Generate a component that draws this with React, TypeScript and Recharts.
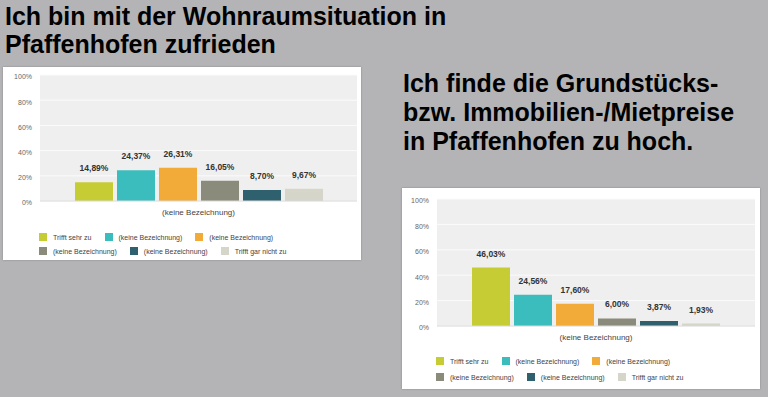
import React from 'react';
import { BarChart, Bar, XAxis, YAxis, CartesianGrid, LabelList } from 'recharts';

const categories = ['(keine Bezeichnung)'];
const seriesNames = [
  'Trifft sehr zu',
  '(keine Bezeichnung)',
  '(keine Bezeichnung)',
  '(keine Bezeichnung)',
  '(keine Bezeichnung)',
  'Trifft gar nicht zu',
];
const seriesColors = ['#c6cd34', '#3cbdbd', '#f2aa38', '#8b8b7b', '#2f606e', '#d5d5c9'];
const wohnraumValues = [14.89, 24.37, 26.31, 16.05, 8.7, 9.67];
const preiseValues = [46.03, 24.56, 17.6, 6.0, 3.87, 1.93];
const yTicks = [0, 20, 40, 60, 80, 100];
const title1Lines = ['Ich bin mit der Wohnraumsituation in', 'Pfaffenhofen zufrieden'];
const title2Lines = ['Ich finde die Grundstücks-', 'bzw. Immobilien-/Mietpreise', 'in Pfaffenhofen zu hoch.'];

const FONT = '"Liberation Sans", Arial, Helvetica, sans-serif';

function buildData(values: number[]) {
  const row: Record<string, string | number> = { name: categories[0] };
  values.forEach((v, i) => {
    row['s' + i] = v;
  });
  return [row];
}

const fmt = (v: any) => Number(v).toFixed(2).replace('.', ',') + '%';

type PanelProps = {
  left: number;
  top: number;
  width: number;
  height: number;
  values: number[];
  plotLeft: number;
  plotRight: number;
  plotTop: number;
  plotBottom: number;
  legendTop: number;
  legendRowH: number;
};

function Panel(p: PanelProps) {
  const data = buildData(p.values);
  const rows = [seriesNames.slice(0, 3).map((n, i) => ({ n, i })), seriesNames.slice(3).map((n, i) => ({ n, i: i + 3 }))];
  return (
    <div
      style={{
        position: 'absolute',
        left: p.left,
        top: p.top,
        width: p.width,
        height: p.height,
        background: '#ffffff',
        boxShadow: '0 0 2px rgba(0,0,0,0.25)',
      }}
    >
      <BarChart
        width={p.width}
        height={p.height}
        data={data}
        margin={{ top: p.plotTop, right: p.width - p.plotRight, left: 0, bottom: 0 }}
        barSize={38}
        barGap={4}
      >
        <CartesianGrid vertical={false} fill="#efefef" stroke="#fbfbfb" />
        <YAxis
          type="number"
          domain={[0, 100]}
          ticks={yTicks}
          interval={0}
          width={p.plotLeft}
          axisLine={false}
          tickLine={false}
          tickFormatter={(v: number) => v + '%'}
          tick={{ fontSize: 7, fill: '#666', dy: 2 }}
        />
        <XAxis
          dataKey="name"
          type="category"
          height={p.height - p.plotBottom}
          axisLine={{ stroke: '#d9d9d9' }}
          tickLine={false}
          tick={{ fontSize: 8, fill: '#444' }}
        />
        {p.values.map((_, i) => (
          <Bar key={i} dataKey={'s' + i} fill={seriesColors[i]} isAnimationActive={false}>
            <LabelList
              dataKey={'s' + i}
              position="top"
              offset={11}
              formatter={fmt}
              style={{ fontSize: 8.5, fontWeight: 700, fill: '#333' }}
            />
          </Bar>
        ))}
      </BarChart>
      <div
        style={{
          position: 'absolute',
          left: p.plotLeft - 1,
          top: p.legendTop - p.legendRowH / 2,
          fontSize: 7,
          color: '#444',
        }}
      >
        {rows.map((row, r) => (
          <div key={r} style={{ display: 'flex', height: p.legendRowH, whiteSpace: 'nowrap' }}>
            {row.map(({ n, i }) => (
              <div
                key={i}
                style={{
                  display: 'flex',
                  alignItems: 'center',
                  height: p.legendRowH,
                  marginRight: 13,
                }}
              >
                <span
                  style={{
                    display: 'inline-block',
                    width: 8,
                    height: 8,
                    background: seriesColors[i],
                    marginRight: 6,
                  }}
                />
                <span>{n}</span>
              </div>
            ))}
          </div>
        ))}
      </div>
    </div>
  );
}

export default function App() {
  return (
    <div
      style={{
        position: 'absolute',
        left: 0,
        top: 0,
        width: 768,
        height: 397,
        background: '#b4b4b6',
        fontFamily: FONT,
        overflow: 'hidden',
      }}
    >
      <div
        style={{
          position: 'absolute',
          left: 5,
          top: 2,
          fontSize: 25,
          fontWeight: 700,
          lineHeight: '28px',
          color: '#000',
          whiteSpace: 'nowrap',
        }}
      >
        {title1Lines.map((l, i) => (
          <div key={i}>{l}</div>
        ))}
      </div>
      <div
        style={{
          position: 'absolute',
          left: 403,
          top: 69,
          fontSize: 25,
          fontWeight: 700,
          lineHeight: '29px',
          color: '#000',
          whiteSpace: 'nowrap',
        }}
      >
        {title2Lines.map((l, i) => (
          <div key={i}>{l}</div>
        ))}
      </div>
      <Panel
        left={3}
        top={67}
        width={358}
        height={193}
        values={wohnraumValues}
        plotLeft={37}
        plotRight={354}
        plotTop={8}
        plotBottom={134}
        legendTop={170}
        legendRowH={14}
      />
      <Panel
        left={402}
        top={188}
        width={358}
        height={201}
        values={preiseValues}
        plotLeft={35}
        plotRight={353}
        plotTop={11}
        plotBottom={138}
        legendTop={173}
        legendRowH={16}
      />
    </div>
  );
}
